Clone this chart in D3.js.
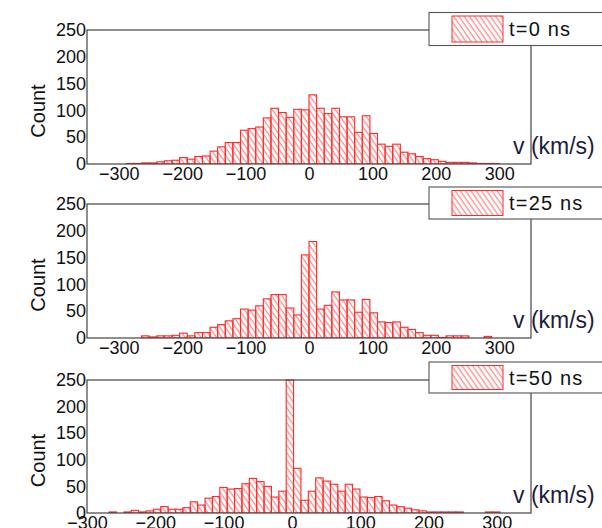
<!DOCTYPE html>
<html>
<head>
<meta charset="utf-8">
<script src="https://cdn.jsdelivr.net/npm/d3@7"></script>
<style>
  html, body { margin: 0; padding: 0; background: #fff; }
  svg { display: block; }
  text { font-family: "Liberation Sans", Arial, Helvetica, sans-serif; }
</style>
</head>
<body>
<script>
// Velocity distributions at three times, histogram counts per velocity bin
const velocityTicks = [-300, -200, -100, 0, 100, 200, 300];
const countTicks = [0, 50, 100, 150, 200, 250];
const legendLabels = ["t=0 ns", "t=25 ns", "t=50 ns"];
const binStarts = [-300, -300, -300];      // km/s, left edge of first bin
const binWidths = [12, 12, 10.8];          // km/s
const velocityDomains = [[-350, 350], [-350, 350], [-300, 350]];

// t = 0 ns
const counts0 = [
  0, 1, 1, 2, 2, 4, 6, 7, 12, 9,
  14, 15, 24, 32, 40, 40, 63, 66, 69, 86,
  104, 96, 87, 102, 101, 129, 104, 94, 104, 88,
  88, 59, 90, 57, 37, 33, 37, 22, 19, 14,
  10, 8, 5, 3, 3, 3, 2, 1, 1, 1
];
// t = 25 ns
const counts25 = [
  0, 0, 0, 4, 2, 4, 4, 5, 9, 4,
  10, 10, 20, 25, 32, 36, 54, 52, 60, 73,
  81, 81, 56, 43, 155, 180, 54, 61, 86, 71,
  71, 48, 72, 47, 30, 29, 30, 20, 16, 10,
  5, 5, 1, 4, 4, 4, 0, 0, 3, 0
];
// t = 50 ns
const counts50 = [
  0, 0, 0, 2, 0, 2, 5, 2, 4, 7,
  12, 7, 7, 10, 21, 15, 28, 31, 48, 45,
  46, 55, 65, 59, 50, 30, 41, 250, 84, 24,
  41, 66, 60, 54, 41, 54, 45, 30, 29, 31,
  23, 15, 12, 9, 6, 4, 2, 2, 2, 2,
  2, 0, 0, 0, 2, 2
];
const seriesCounts = [counts0, counts25, counts50];

const W = 602, H = 528;
const plotLeft = 87, plotRight = 531;
const panels = [
  { top: 30,  bottom: 164, legendTop: 12.5, legendH: 33 },
  { top: 204, bottom: 338, legendTop: 187,  legendH: 32 },
  { top: 380, bottom: 513, legendTop: 362,  legendH: 31 }
];
const barStroke = "#ff2a2a";
const frameColor = "#444";

const svg = d3.select("body").append("svg")
  .attr("width", W).attr("height", H);

const defs = svg.append("defs");
const hatch = defs.append("pattern")
  .attr("id", "hatch")
  .attr("patternUnits", "userSpaceOnUse")
  .attr("width", 4.3).attr("height", 10)
  .attr("patternTransform", "rotate(-35)");
hatch.append("line")
  .attr("x1", 1).attr("y1", 0).attr("x2", 1).attr("y2", 10)
  .attr("stroke", "#ff5c5c").attr("stroke-width", 0.9);

panels.forEach((p, pi) => {
  const x = d3.scaleLinear().domain(velocityDomains[pi]).range([plotLeft, plotRight]);
  const y = d3.scaleLinear().domain([0, 250]).range([p.bottom, p.top]);
  const g = svg.append("g");

  const clipId = "clip" + pi;
  defs.append("clipPath").attr("id", clipId)
    .append("rect")
    .attr("x", plotLeft).attr("y", p.top - 1)
    .attr("width", plotRight - plotLeft).attr("height", p.bottom - p.top + 1);

  const counts = seriesCounts[pi];
  const bins = counts.map((c, i) => ({
    x0: binStarts[pi] + i * binWidths[pi],
    x1: binStarts[pi] + (i + 1) * binWidths[pi],
    c
  })).filter(d => d.c > 0);

  g.append("g").attr("clip-path", `url(#${clipId})`)
    .selectAll("rect").data(bins).join("rect")
    .attr("x", d => x(d.x0))
    .attr("width", d => x(d.x1) - x(d.x0))
    .attr("y", d => y(d.c))
    .attr("height", d => y(0) - y(d.c))
    .attr("fill", "url(#hatch)")
    .attr("stroke", barStroke)
    .attr("stroke-width", 1.1);

  // plot frame
  g.append("rect")
    .attr("x", plotLeft).attr("y", p.top)
    .attr("width", plotRight - plotLeft).attr("height", p.bottom - p.top)
    .attr("fill", "none").attr("stroke", frameColor).attr("stroke-width", 1.2);

  const yAxis = g.append("g")
    .attr("transform", `translate(${plotLeft},0)`)
    .call(d3.axisLeft(y).tickValues(countTicks).tickSize(0).tickPadding(1));
  yAxis.select(".domain").remove();
  yAxis.selectAll("text").attr("font-size", 18).attr("fill", "#111")
    .attr("font-family", "'Liberation Sans', Arial, sans-serif");

  const xAxis = g.append("g")
    .attr("transform", `translate(0,${p.bottom})`)
    .call(d3.axisBottom(x).tickValues(velocityTicks).tickSize(0).tickPadding(3));
  xAxis.select(".domain").remove();
  xAxis.selectAll("text").attr("font-size", 18).attr("fill", "#111")
    .attr("font-family", "'Liberation Sans', Arial, sans-serif");

  // y title
  const cy = (p.top + p.bottom) / 2 + 14;
  g.append("text")
    .attr("transform", `translate(45,${cy}) rotate(-90)`)
    .attr("text-anchor", "middle")
    .attr("font-size", 20).attr("fill", "#111")
    .text("Count");

  // x title
  g.append("text")
    .attr("x", 513).attr("y", p.bottom - 10)
    .attr("font-size", 23).attr("fill", "#1c1c3c")
    .text("v (km/s)");

  // legend
  g.append("rect")
    .attr("x", 429).attr("y", p.legendTop)
    .attr("width", 200).attr("height", p.legendH)
    .attr("fill", "#fff").attr("stroke", "#555").attr("stroke-width", 1.1);
  g.append("rect")
    .attr("x", 452).attr("y", p.legendTop + 3.5)
    .attr("width", 51).attr("height", p.legendH - 7)
    .attr("fill", "url(#hatch)").attr("stroke", barStroke).attr("stroke-width", 1);
  g.append("text")
    .attr("x", 509).attr("y", p.legendTop + p.legendH / 2 + 7)
    .attr("font-size", 20).attr("letter-spacing", 1.2).attr("fill", "#111")
    .text(legendLabels[pi]);
});
</script>
</body>
</html>
